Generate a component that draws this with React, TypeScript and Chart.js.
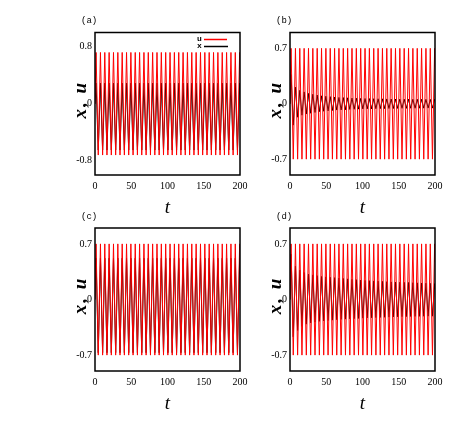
import React, { useEffect, useRef } from "react";
import { Chart, registerables } from "chart.js";

Chart.register(...registerables);

// ---- data ----
const tPeaks = [1.5, 7.5, 13.5, 19.5, 25.5, 31.5, 37.5, 43.5, 49.5, 55.5,
  61.5, 67.5, 73.5, 79.5, 85.5, 91.5, 97.5, 103.5, 109.5, 115.5,
  121.5, 127.5, 133.5, 139.5, 145.5, 151.5, 157.5, 163.5, 169.5, 175.5,
  181.5, 187.5, 193.5, 199.5];
const tTroughs = [4.5, 10.5, 16.5, 22.5, 28.5, 34.5, 40.5, 46.5, 52.5, 58.5,
  64.5, 70.5, 76.5, 82.5, 88.5, 94.5, 100.5, 106.5, 112.5, 118.5,
  124.5, 130.5, 136.5, 142.5, 148.5, 154.5, 160.5, 166.5, 172.5, 178.5,
  184.5, 190.5, 196.5];
const tStart = 0;
const tEnd = 200;

const xTicks = [0, 50, 100, 150, 200];
const yTicksA = [-0.8, 0, 0.8];
const yTicksB = [-0.7, 0, 0.7];
const yTickLabelsA = ["-0.8", "0", "0.8"];
const yTickLabelsB = ["-0.7", "0", "0.7"];

// panel (a): u
const uPeaksA = [0.72, 0.72, 0.72, 0.72, 0.72, 0.72, 0.72, 0.72, 0.72, 0.72,
  0.72, 0.72, 0.72, 0.72, 0.72, 0.72, 0.72, 0.72, 0.72, 0.72,
  0.72, 0.72, 0.72, 0.72, 0.72, 0.72, 0.72, 0.72, 0.72, 0.72,
  0.72, 0.72, 0.72, 0.72];
const uTroughsA = [-0.72, -0.72, -0.72, -0.72, -0.72, -0.72, -0.72, -0.72, -0.72, -0.72,
  -0.72, -0.72, -0.72, -0.72, -0.72, -0.72, -0.72, -0.72, -0.72, -0.72,
  -0.72, -0.72, -0.72, -0.72, -0.72, -0.72, -0.72, -0.72, -0.72, -0.72,
  -0.72, -0.72, -0.72];
// panels (b),(c),(d): u
const uPeaks = [0.7, 0.7, 0.7, 0.7, 0.7, 0.7, 0.7, 0.7, 0.7, 0.7,
  0.7, 0.7, 0.7, 0.7, 0.7, 0.7, 0.7, 0.7, 0.7, 0.7,
  0.7, 0.7, 0.7, 0.7, 0.7, 0.7, 0.7, 0.7, 0.7, 0.7,
  0.7, 0.7, 0.7, 0.7];
const uTroughs = [-0.7, -0.7, -0.7, -0.7, -0.7, -0.7, -0.7, -0.7, -0.7, -0.7,
  -0.7, -0.7, -0.7, -0.7, -0.7, -0.7, -0.7, -0.7, -0.7, -0.7,
  -0.7, -0.7, -0.7, -0.7, -0.7, -0.7, -0.7, -0.7, -0.7, -0.7,
  -0.7, -0.7, -0.7];

// panel (a): x
const xPeaksA = [0.29, 0.29, 0.29, 0.29, 0.29, 0.29, 0.29, 0.29, 0.29, 0.29,
  0.29, 0.29, 0.29, 0.29, 0.29, 0.29, 0.29, 0.29, 0.29, 0.29,
  0.29, 0.29, 0.29, 0.29, 0.29, 0.29, 0.29, 0.29, 0.29, 0.29,
  0.29, 0.29, 0.29, 0.29];
const xTroughsA = [-0.65, -0.65, -0.65, -0.65, -0.65, -0.65, -0.65, -0.65, -0.65, -0.65,
  -0.65, -0.65, -0.65, -0.65, -0.65, -0.65, -0.65, -0.65, -0.65, -0.65,
  -0.65, -0.65, -0.65, -0.65, -0.65, -0.65, -0.65, -0.65, -0.65, -0.65,
  -0.65, -0.65, -0.65];
// panel (b): x
const xPeaksB = [0.37, 0.21, 0.17, 0.15, 0.13, 0.12, 0.11, 0.10, 0.095, 0.09,
  0.085, 0.08, 0.078, 0.075, 0.072, 0.07, 0.068, 0.066, 0.065, 0.064,
  0.063, 0.062, 0.061, 0.06, 0.06, 0.059, 0.058, 0.058, 0.057, 0.057,
  0.056, 0.056, 0.055, 0.055];
const xTroughsB = [-0.27, -0.17, -0.145, -0.13, -0.12, -0.11, -0.1, -0.095, -0.09, -0.085,
  -0.08, -0.078, -0.075, -0.072, -0.07, -0.068, -0.066, -0.065, -0.064, -0.063,
  -0.062, -0.061, -0.06, -0.06, -0.059, -0.058, -0.058, -0.057, -0.057, -0.056,
  -0.056, -0.055, -0.055];
// panel (c): x
const xPeaksC = [0.52, 0.52, 0.52, 0.52, 0.52, 0.52, 0.52, 0.52, 0.52, 0.52,
  0.52, 0.52, 0.52, 0.52, 0.52, 0.52, 0.52, 0.52, 0.52, 0.52,
  0.52, 0.52, 0.52, 0.52, 0.52, 0.52, 0.52, 0.52, 0.52, 0.52,
  0.52, 0.52, 0.52, 0.52];
const xTroughsC = [-0.67, -0.67, -0.67, -0.67, -0.67, -0.67, -0.67, -0.67, -0.67, -0.67,
  -0.67, -0.67, -0.67, -0.67, -0.67, -0.67, -0.67, -0.67, -0.67, -0.67,
  -0.67, -0.67, -0.67, -0.67, -0.67, -0.67, -0.67, -0.67, -0.67, -0.67,
  -0.67, -0.67, -0.67];
// panel (d): x
const xPeaksD = [0.57, 0.42, 0.37, 0.34, 0.32, 0.31, 0.30, 0.29, 0.285, 0.28,
  0.275, 0.27, 0.265, 0.26, 0.255, 0.25, 0.245, 0.24, 0.237, 0.234,
  0.231, 0.228, 0.225, 0.222, 0.22, 0.218, 0.216, 0.214, 0.212, 0.21,
  0.208, 0.206, 0.204, 0.2];
const xTroughsD = [-0.47, -0.39, -0.34, -0.31, -0.295, -0.285, -0.275, -0.27, -0.265, -0.26,
  -0.255, -0.25, -0.247, -0.244, -0.241, -0.238, -0.235, -0.232, -0.23, -0.228,
  -0.226, -0.224, -0.222, -0.22, -0.218, -0.216, -0.215, -0.214, -0.213, -0.212,
  -0.211, -0.21, -0.21];

function buildPoints(startY: number, peaks: number[], troughs: number[], endY: number) {
  const pts: { x: number; y: number }[] = [{ x: tStart, y: startY }];
  for (let i = 0; i < tPeaks.length; i++) {
    pts.push({ x: tPeaks[i], y: peaks[i] });
    if (i < tTroughs.length) pts.push({ x: tTroughs[i], y: troughs[i] });
  }
  pts.push({ x: tEnd, y: endY });
  return pts;
}

type PanelDef = {
  label: string;
  plotLeft: number;
  plotTop: number;
  plotW: number;
  plotH: number;
  yMax: number;
  yTicks: number[];
  yLabels: string[];
  u: { x: number; y: number }[];
  x: { x: number; y: number }[];
  legend: boolean;
};

const panels: PanelDef[] = [
  { label: "(a)", plotLeft: 95, plotTop: 32.5, plotW: 145, plotH: 142.5, yMax: 1.0,
    yTicks: yTicksA, yLabels: yTickLabelsA,
    u: buildPoints(0, uPeaksA, uTroughsA, 0.48), x: buildPoints(0, xPeaksA, xTroughsA, 0.13), legend: true },
  { label: "(b)", plotLeft: 290, plotTop: 32.5, plotW: 145, plotH: 142.5, yMax: 0.9,
    yTicks: yTicksB, yLabels: yTickLabelsB,
    u: buildPoints(0, uPeaks, uTroughs, 0.47), x: buildPoints(0, xPeaksB, xTroughsB, 0.04), legend: false },
  { label: "(c)", plotLeft: 95, plotTop: 228, plotW: 145, plotH: 143, yMax: 0.9,
    yTicks: yTicksB, yLabels: yTickLabelsB,
    u: buildPoints(0, uPeaks, uTroughs, 0.47), x: buildPoints(0, xPeaksC, xTroughsC, 0.32), legend: false },
  { label: "(d)", plotLeft: 290, plotTop: 228, plotW: 145, plotH: 143, yMax: 0.9,
    yTicks: yTicksB, yLabels: yTickLabelsB,
    u: buildPoints(0, uPeaks, uTroughs, 0.47), x: buildPoints(0, xPeaksD, xTroughsD, 0.13), legend: false },
];

const LEFT_W = 55;
const RIGHT_PAD = 15;
const BOTTOM_H = 45;
const TOP_OFF = 25;

function Panel({ def }: { def: PanelDef }) {
  const ref = useRef<HTMLCanvasElement | null>(null);
  const canvasLeft = def.plotLeft - LEFT_W;
  const canvasTop = Math.floor(def.plotTop) - TOP_OFF;
  const padTop = def.plotTop - canvasTop;
  const width = LEFT_W + def.plotW + RIGHT_PAD;
  const height = Math.ceil(padTop + def.plotH + BOTTOM_H);
  const bottomH = height - padTop - def.plotH;

  useEffect(() => {
    if (!ref.current) return;
    const tickFont = { family: '"Liberation Serif", serif', size: 10 };
    const textPlugin = {
      id: "panelText",
      afterDraw(chart: any) {
        const { ctx, chartArea: a } = chart;
        ctx.save();
        ctx.strokeStyle = "#000";
        ctx.lineWidth = 1.5;
        ctx.strokeRect(a.left, a.top, a.right - a.left, a.bottom - a.top);
        ctx.fillStyle = "#000";
        ctx.font = '9px "Liberation Mono", monospace';
        ctx.textAlign = "left";
        ctx.textBaseline = "alphabetic";
        ctx.fillText(def.label, a.left - 14, a.top - 9.5);
        ctx.font = 'italic 19px "Liberation Serif", serif';
        ctx.textAlign = "center";
        ctx.fillText("t", (a.left + a.right) / 2, a.bottom + 38);
        if (def.legend) {
          ctx.font = 'bold 8px "Liberation Mono", monospace';
          ctx.textAlign = "left";
          ctx.fillText("u", a.right - 43, a.top + 8.5);
          ctx.fillText("x", a.right - 43, a.top + 15);
          ctx.lineWidth = 1.5;
          ctx.strokeStyle = "#ff0000";
          ctx.beginPath();
          ctx.moveTo(a.right - 36, a.top + 7);
          ctx.lineTo(a.right - 13, a.top + 7);
          ctx.stroke();
          ctx.strokeStyle = "#000";
          ctx.beginPath();
          ctx.moveTo(a.right - 36, a.top + 14);
          ctx.lineTo(a.right - 12, a.top + 14);
          ctx.stroke();
        }
        ctx.translate(a.left - 9.5, (a.top + a.bottom) / 2 - 4);
        ctx.rotate(-Math.PI / 2);
        ctx.font = 'bold italic 19px "Liberation Serif", serif';
        (ctx as any).letterSpacing = "2px";
        ctx.textAlign = "center";
        ctx.fillText("x, u", 0, 0);
        ctx.restore();
      },
    };
    const chart = new Chart(ref.current, {
      type: "line",
      data: {
        datasets: [
          { label: "u", data: def.u, borderColor: "#ff0000", borderWidth: 1, pointRadius: 0, tension: 0, fill: false },
          { label: "x", data: def.x, borderColor: "#000000", borderWidth: 1, pointRadius: 0, tension: 0, fill: false },
        ],
      },
      options: {
        responsive: false,
        animation: false,
        devicePixelRatio: 1,
        events: [],
        layout: { padding: { left: 0, right: RIGHT_PAD, top: padTop, bottom: 0 } },
        plugins: { legend: { display: false }, tooltip: { enabled: false } },
        scales: {
          x: {
            type: "linear",
            min: 0,
            max: 200,
            grid: { display: false, drawTicks: false },
            border: { display: false },
            afterBuildTicks: (s: any) => { s.ticks = xTicks.map((v) => ({ value: v })); },
            afterFit: (s: any) => { s.height = bottomH; },
            ticks: { font: tickFont, color: "#000", padding: 5, maxRotation: 0, autoSkip: false, callback: (v: any) => String(v) },
          },
          y: {
            type: "linear",
            min: -def.yMax,
            max: def.yMax,
            grid: { display: false, drawTicks: false },
            border: { display: false },
            afterBuildTicks: (s: any) => { s.ticks = def.yTicks.map((v) => ({ value: v })); },
            afterFit: (s: any) => { s.width = LEFT_W; },
            ticks: {
              font: tickFont, color: "#000", padding: 3, autoSkip: false,
              callback: (v: any) => { const i = def.yTicks.indexOf(Number(v)); return i >= 0 ? def.yLabels[i] : ""; },
            },
          },
        },
      } as any,
      plugins: [textPlugin],
    });
    return () => chart.destroy();
  }, []);

  return (
    <canvas
      ref={ref}
      width={width}
      height={height}
      style={{ position: "absolute", left: canvasLeft, top: canvasTop, width, height }}
    />
  );
}

export default function App() {
  return (
    <div style={{ position: "absolute", left: 0, top: 0, width: 471, height: 436, background: "#fff" }}>
      {panels.map((p) => (
        <Panel key={p.label} def={p} />
      ))}
    </div>
  );
}
